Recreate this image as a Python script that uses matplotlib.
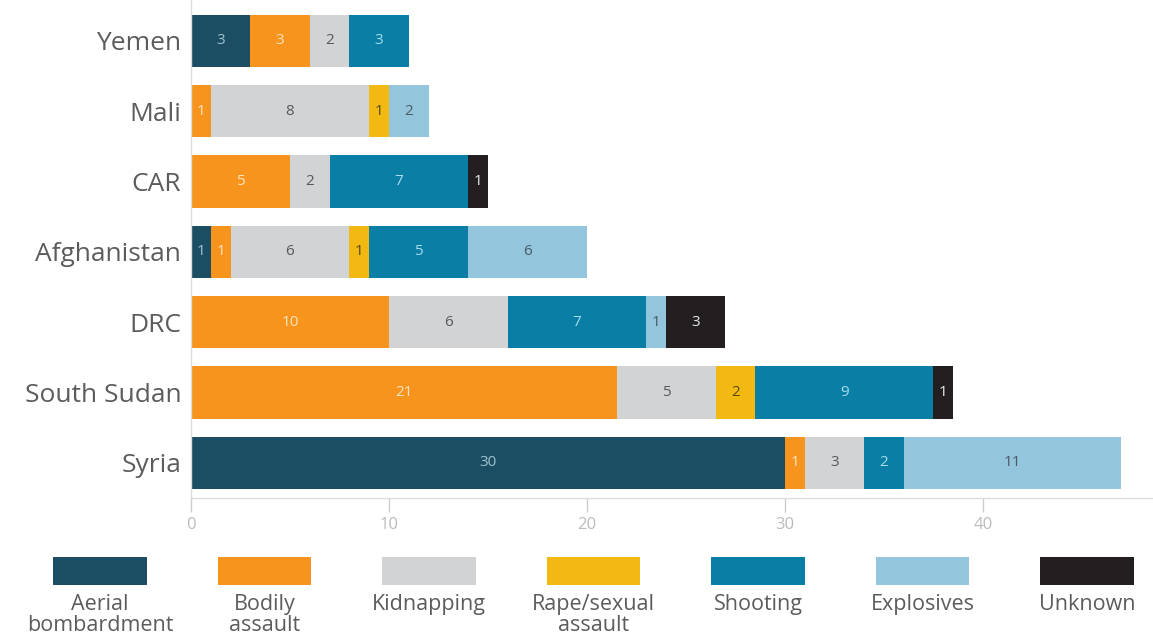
import numpy as np
import matplotlib.pyplot as plt

plt.rcParams['font.family'] = ['Open Sans', 'DejaVu Sans']

# countries, top to bottom
countries = ['Yemen', 'Mali', 'CAR', 'Afghanistan', 'DRC', 'South Sudan', 'Syria']

categories = ['Aerial\nbombardment', 'Bodily\nassault', 'Kidnapping',
              'Rape/sexual\nassault', 'Shooting', 'Explosives', 'Unknown']
colors = ['#1b4d63', '#f7941d', '#d1d3d4', '#f2b912', '#0a7ea4', '#93c6dc', '#231f20']
text_colors = ['#9fc3cf', '#fde3c0', '#58595b', '#5a4a10', '#a8dcef', '#4a5a66', '#e8e8e8']

# values per category, in the order of countries
aerial     = [3, 0, 0, 1, 0, 0, 30]
bodily     = [3, 1, 5, 1, 10, 21.5, 1]
kidnapping = [2, 8, 2, 6, 6, 5, 3]
rape       = [0, 1, 0, 1, 0, 2, 0]
shooting   = [3, 0, 7, 5, 7, 9, 2]
explosives = [0, 2, 0, 6, 1, 0, 11]
unknown    = [0, 0, 1, 0, 3, 1, 0]

series = [aerial, bodily, kidnapping, rape, shooting, explosives, unknown]

fig = plt.figure(figsize=(11.53, 6.44), dpi=100)
ax = fig.add_axes([191 / 1153, 146 / 644, 1 - 191 / 1153, 498 / 644])

y = np.arange(len(countries))[::-1]
left = np.zeros(len(countries))
for vals, c, tc in zip(series, colors, text_colors):
    vals = np.array(vals, dtype=float)
    ax.barh(y, vals, left=left, height=0.74, color=c)
    for yi, l, v in zip(y, left, vals):
        if v > 0:
            ax.text(l + v / 2, yi, str(int(v)), ha='center', va='center',
                    fontsize=11, color=tc)
    left += vals

ax.set_xlim(0, 48.6)
ax.set_ylim(-0.5, 6.58)
ax.set_yticks(y)
ax.set_yticklabels(countries, fontsize=19, color='#5b5c5e')
ax.tick_params(axis='y', length=0, pad=7)
ax.set_xticks([0, 10, 20, 30, 40])
ax.tick_params(axis='x', length=10, width=1, color='#cccccc', labelcolor='#bbbbbb',
               labelsize=12, pad=4)
for s in ['top', 'right']:
    ax.spines[s].set_visible(False)
for s in ['left', 'bottom']:
    ax.spines[s].set_color('#dddddd')
    ax.spines[s].set_linewidth(1)

# legend as a row of swatches with labels underneath
lax = fig.add_axes([0, 0, 1, 89 / 644])
lax.set_xlim(-100 / 164.5, 1053 / 164.5)
lax.set_ylim(89, 0)
lax.axis('off')
lx = np.arange(len(categories))
lax.bar(lx, 28, bottom=2, width=0.57, color=colors)
for xi, name in zip(lx, categories):
    lax.text(xi, 39, name, ha='center', va='top', fontsize=15.5, color='#5b5c5e',
             linespacing=1.02)

fig.savefig('out.png', dpi=100)
